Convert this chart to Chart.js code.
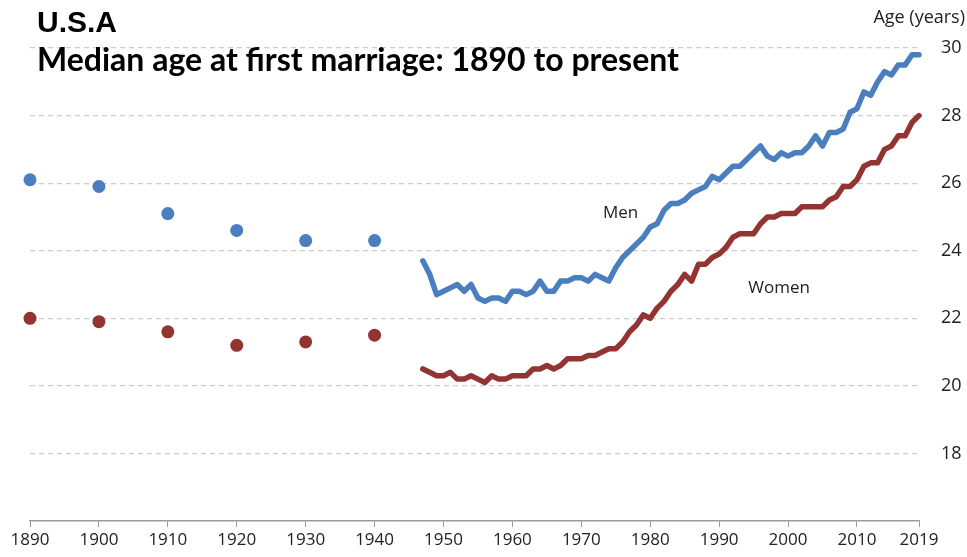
<!DOCTYPE html>
<html>
<head>
<meta charset="utf-8">
<script src="https://cdn.jsdelivr.net/npm/chart.js@4"></script>
<style>
  body { margin: 0; background: #fff; }
</style>
</head>
<body>
<canvas id="myChart" width="967" height="557"></canvas>
<script>
// census decades (dots)
const decadeYears = [1890, 1900, 1910, 1920, 1930, 1940];
const menDecade = [26.1, 25.9, 25.1, 24.6, 24.3, 24.3];
const womenDecade = [22.0, 21.9, 21.6, 21.2, 21.3, 21.5];

// yearly series 1947-2019 (lines)
const annualYears = [
  1947, 1948, 1949, 1950, 1951, 1952, 1953, 1954, 1955, 1956, 1957, 1958, 1959,
  1960, 1961, 1962, 1963, 1964, 1965, 1966, 1967, 1968, 1969,
  1970, 1971, 1972, 1973, 1974, 1975, 1976, 1977, 1978, 1979,
  1980, 1981, 1982, 1983, 1984, 1985, 1986, 1987, 1988, 1989,
  1990, 1991, 1992, 1993, 1994, 1995, 1996, 1997, 1998, 1999,
  2000, 2001, 2002, 2003, 2004, 2005, 2006, 2007, 2008, 2009,
  2010, 2011, 2012, 2013, 2014, 2015, 2016, 2017, 2018, 2019
];
const menAnnual = [
  23.7, 23.3, 22.7, 22.8, 22.9, 23.0, 22.8, 23.0, 22.6, 22.5, 22.6, 22.6, 22.5,
  22.8, 22.8, 22.7, 22.8, 23.1, 22.8, 22.8, 23.1, 23.1, 23.2,
  23.2, 23.1, 23.3, 23.2, 23.1, 23.5, 23.8, 24.0, 24.2, 24.4,
  24.7, 24.8, 25.2, 25.4, 25.4, 25.5, 25.7, 25.8, 25.9, 26.2,
  26.1, 26.3, 26.5, 26.5, 26.7, 26.9, 27.1, 26.8, 26.7, 26.9,
  26.8, 26.9, 26.9, 27.1, 27.4, 27.1, 27.5, 27.5, 27.6, 28.1,
  28.2, 28.7, 28.6, 29.0, 29.3, 29.2, 29.5, 29.5, 29.8, 29.8
];
const womenAnnual = [
  20.5, 20.4, 20.3, 20.3, 20.4, 20.2, 20.2, 20.3, 20.2, 20.1, 20.3, 20.2, 20.2,
  20.3, 20.3, 20.3, 20.5, 20.5, 20.6, 20.5, 20.6, 20.8, 20.8,
  20.8, 20.9, 20.9, 21.0, 21.1, 21.1, 21.3, 21.6, 21.8, 22.1,
  22.0, 22.3, 22.5, 22.8, 23.0, 23.3, 23.1, 23.6, 23.6, 23.8,
  23.9, 24.1, 24.4, 24.5, 24.5, 24.5, 24.8, 25.0, 25.0, 25.1,
  25.1, 25.1, 25.3, 25.3, 25.3, 25.3, 25.5, 25.6, 25.9, 25.9,
  26.1, 26.5, 26.6, 26.6, 27.0, 27.1, 27.4, 27.4, 27.8, 28.0
];

const xTicks = [1890, 1900, 1910, 1920, 1930, 1940, 1950, 1960, 1970, 1980, 1990, 2000, 2010, 2019];
const yTicks = [18, 20, 22, 24, 26, 28, 30];

const blue = '#4a7ebf';
const red = '#933432';

const toXY = (xs, ys) => xs.map((x, i) => ({ x: x, y: ys[i] }));

// titles + series labels
const textPlugin = {
  id: 'texts',
  afterDraw(chart) {
    const c = chart.ctx;
    const sx = chart.scales.x, sy = chart.scales.y;
    c.save();
    c.fillStyle = '#000';
    c.textBaseline = 'alphabetic';
    c.textAlign = 'left';
    c.font = 'bold 30px "Liberation Sans"';
    c.fillText('U.S.A', 37, 32);
    c.font = 'bold 32px Lato';
    c.fillText('Median age at first marriage: 1890 to present', 37, 71);
    c.fillStyle = '#222';
    c.font = '18px "Open Sans"';
    c.textAlign = 'right';
    c.fillText('Age (years)', 965, 23);
    c.textAlign = 'center';
    c.textBaseline = 'middle';
    c.font = '17px "Open Sans"';
    c.fillText('Men', sx.getPixelForValue(1975.7), sy.getPixelForValue(25.1));
    c.fillText('Women', sx.getPixelForValue(1998.7), sy.getPixelForValue(22.9));
    c.restore();
  }
};

const data = {
  datasets: [
    {
      label: 'Men',
      data: toXY(annualYears, menAnnual),
      borderColor: blue,
      borderWidth: 5.5,
      pointRadius: 0,
      tension: 0,
      borderJoinStyle: 'round',
      borderCapStyle: 'round',
      clip: false,
    },
    {
      label: 'Women',
      data: toXY(annualYears, womenAnnual),
      borderColor: red,
      borderWidth: 5.5,
      pointRadius: 0,
      tension: 0,
      borderJoinStyle: 'round',
      borderCapStyle: 'round',
      clip: false,
    },
    {
      label: 'Men (census)',
      data: toXY(decadeYears, menDecade),
      showLine: false,
      pointRadius: 6.5,
      pointBackgroundColor: blue,
      pointBorderWidth: 0,
      clip: false,
    },
    {
      label: 'Women (census)',
      data: toXY(decadeYears, womenDecade),
      showLine: false,
      pointRadius: 6.5,
      pointBackgroundColor: red,
      pointBorderWidth: 0,
      clip: false,
    },
  ],
};

const config = {
  type: 'line',
  data: data,
  options: {
    responsive: false,
    animation: false,
    devicePixelRatio: 1,
    layout: { padding: { top: 48, left: 30, right: 0, bottom: 0 } },
    plugins: {
      legend: { display: false },
      tooltip: { enabled: false },
    },
    scales: {
      x: {
        type: 'linear',
        min: 1890,
        max: 2019,
        afterBuildTicks(axis) { axis.ticks = xTicks.map(v => ({ value: v })); },
        afterFit(axis) { axis.height = 36; },
        grid: { drawOnChartArea: false, drawTicks: true, tickLength: 6, color: '#999' },
        border: { display: true, color: '#999', width: 1.5 },
        ticks: {
          padding: 3,
          maxRotation: 0,
          autoSkip: false,
          color: '#222',
          font: { family: 'Open Sans', size: 17 },
          callback: v => String(v),
        },
      },
      y: {
        position: 'right',
        min: 16,
        max: 30,
        afterBuildTicks(axis) { axis.ticks = yTicks.map(v => ({ value: v })); },
        afterFit(axis) { axis.width = 48; },
        grid: { drawTicks: false, color: '#cccccc', lineWidth: 1.2 },
        border: { display: false, dash: [5, 4] },
        ticks: {
          padding: 22,
          color: '#222',
          font: { family: 'Open Sans', size: 18 },
        },
      },
    },
  },
  plugins: [textPlugin],
};

var ctx = document.getElementById('myChart').getContext('2d');
var myChart = new Chart(ctx, config);
</script>
</body>
</html>
